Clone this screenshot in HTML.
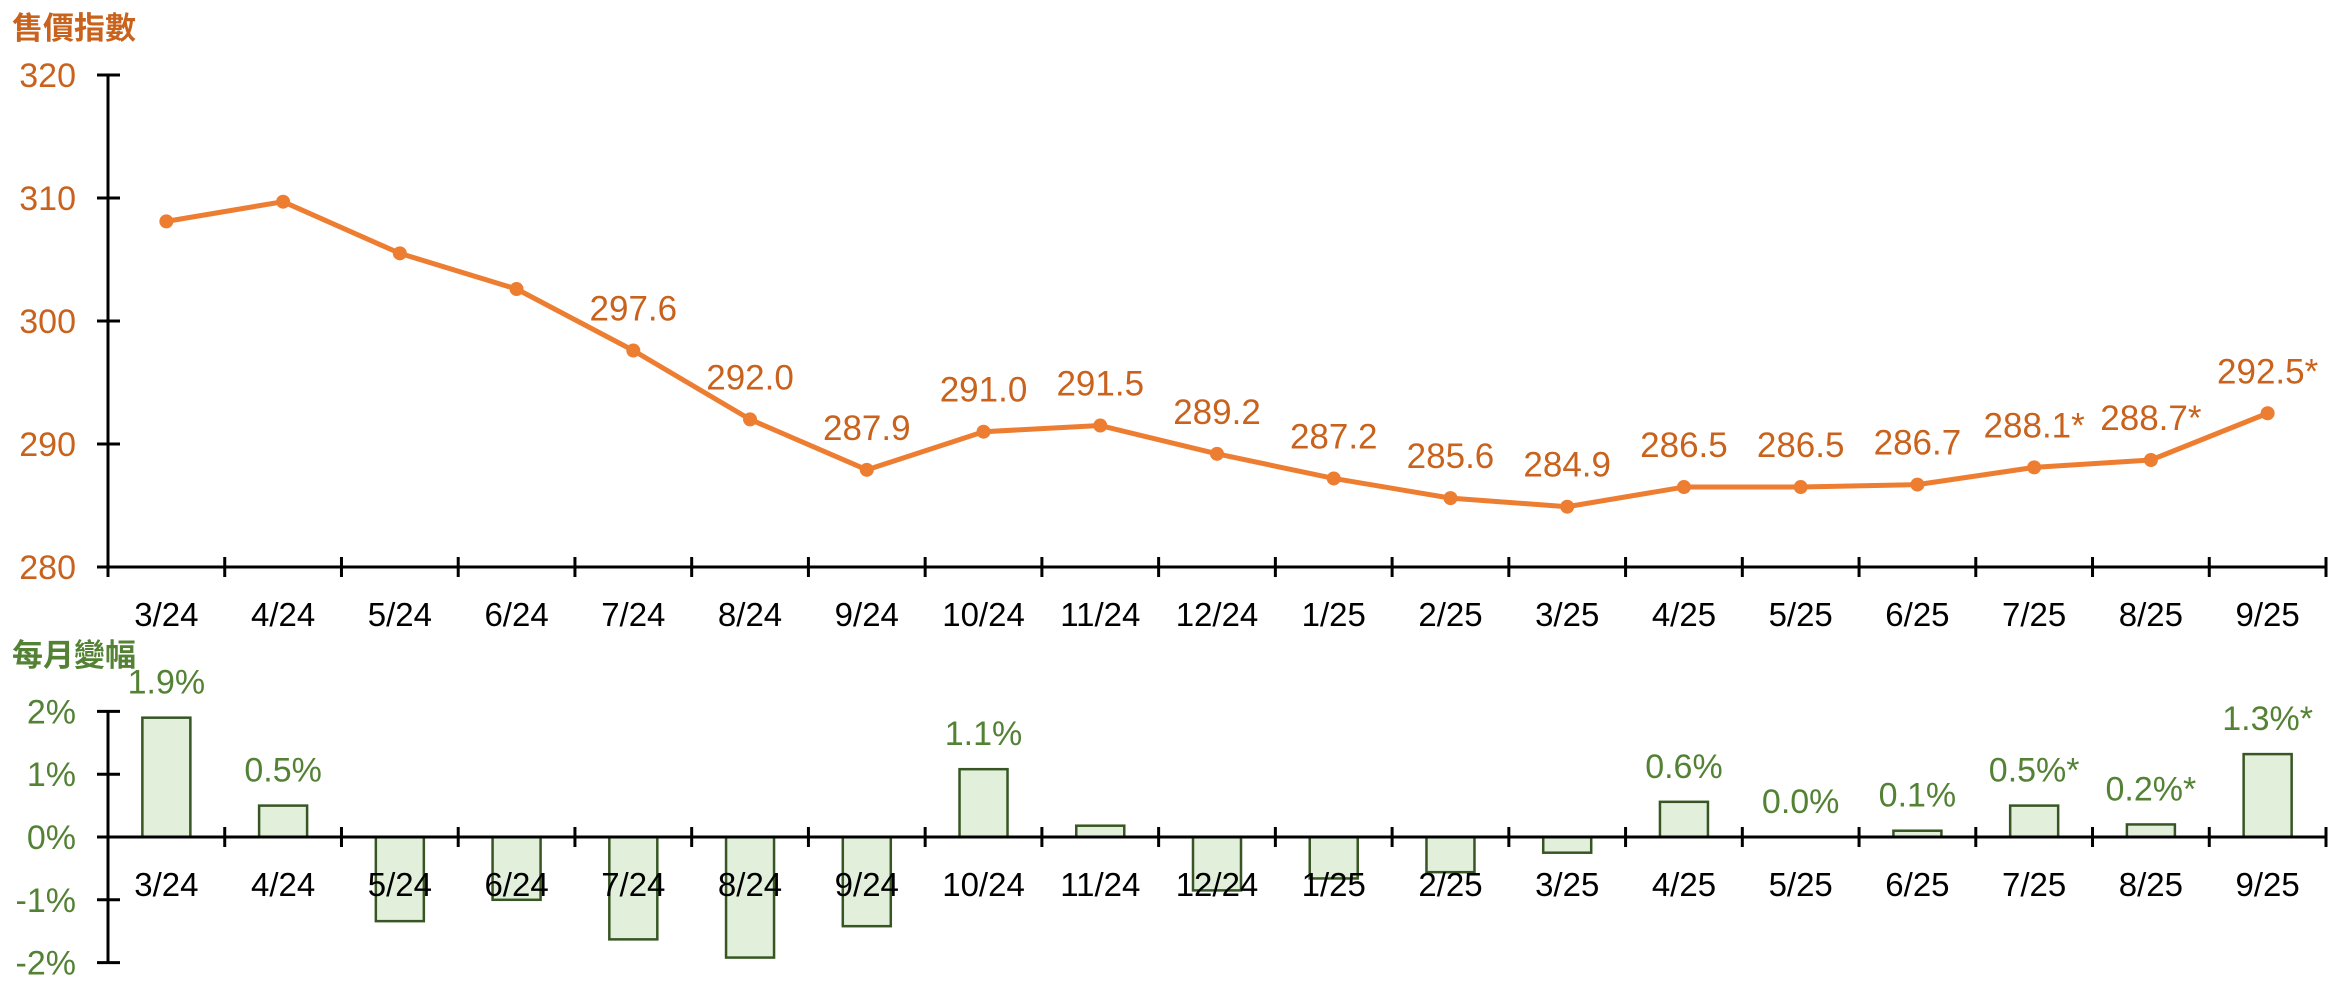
<!DOCTYPE html>
<html><head><meta charset="utf-8"><style>
html,body{margin:0;padding:0;background:#fff;}
svg{display:block;}
text{font-family:"Liberation Sans","Noto Sans CJK TC",sans-serif;}
</style></head><body>
<svg id="s" width="2346" height="992" xmlns="http://www.w3.org/2000/svg"></svg>
<script>
const s=document.getElementById('s');
let h='';
const X0=108,X1=2326,N=19,W=(X1-X0)/N;
const cx=i=>X0+W*(i+0.5);
const cats=['3/24','4/24','5/24','6/24','7/24','8/24','9/24','10/24','11/24','12/24','1/25','2/25','3/25','4/25','5/25','6/25','7/25','8/25','9/25'];
const vals=[308.1,309.7,305.5,302.6,297.6,292.0,287.9,291.0,291.5,289.2,287.2,285.6,284.9,286.5,286.5,286.7,288.1,288.7,292.5];
const lab=[null,null,null,null,'297.6','292.0','287.9','291.0','291.5','289.2','287.2','285.6','284.9','286.5','286.5','286.7','288.1*','288.7*','292.5*'];
const chg=[1.9,0.5,-1.34,-1.0,-1.63,-1.92,-1.42,1.08,0.18,-0.85,-0.66,-0.56,-0.25,0.56,0.0,0.1,0.5,0.2,1.32];
const clab=['1.9%','0.5%',null,null,null,null,null,'1.1%',null,null,null,null,null,'0.6%','0.0%','0.1%','0.5%*','0.2%*','1.3%*'];
const yT=v=>567-(v-280)*12.3;
const yB=v=>837-v*62.8;
const OR='#C8621C',GR='#548235';
h+=`<text x="12" y="39" font-size="31" font-weight="bold" fill="${OR}">售價指數</text>`;
h+=`<text x="12" y="666" font-size="31" font-weight="bold" fill="${GR}">每月變幅</text>`;
h+=`<line x1="${X0}" y1="75" x2="${X0}" y2="577" stroke="#000" stroke-width="3"/>`;
h+=`<line x1="97" y1="567" x2="${X1}" y2="567" stroke="#000" stroke-width="3"/>`;
[320,310,300,290,280].forEach(v=>{const y=yT(v);h+=`<line x1="97" y1="${y}" x2="120" y2="${y}" stroke="#000" stroke-width="3"/><text x="76" y="${y+12}" font-size="34" fill="${OR}" text-anchor="end">${v}</text>`;});
for(let i=0;i<=N;i++){const x=X0+W*i;h+=`<line x1="${x}" y1="557" x2="${x}" y2="577" stroke="#000" stroke-width="3"/>`;}
cats.forEach((c,i)=>{h+=`<text x="${cx(i)}" y="626" font-size="33" text-anchor="middle" fill="#000">${c}</text>`;});
h+=`<polyline fill="none" stroke="#ED7D31" stroke-width="5" stroke-linejoin="round" points="${vals.map((v,i)=>cx(i)+','+yT(v)).join(' ')}"/>`;
vals.forEach((v,i)=>{h+=`<circle cx="${cx(i)}" cy="${yT(v)}" r="7" fill="#ED7D31"/>`;if(lab[i])h+=`<text x="${cx(i)}" y="${yT(v)-30}" font-size="35" text-anchor="middle" fill="${OR}">${lab[i]}</text>`;});
chg.forEach((v,i)=>{const y=Math.min(yB(v),837),hh=Math.abs(v*62.8);h+=`<rect x="${cx(i)-24}" y="${y}" width="48" height="${hh}" fill="#E2EFDA" stroke="#375623" stroke-width="2.5"/>`;
 if(clab[i])h+=`<text x="${cx(i)}" y="${yB(v)-24}" font-size="34" text-anchor="middle" fill="${GR}">${clab[i]}</text>`;});
h+=`<line x1="${X0}" y1="712" x2="${X0}" y2="964" stroke="#000" stroke-width="3"/>`;
h+=`<line x1="97" y1="837" x2="${X1}" y2="837" stroke="#000" stroke-width="3"/>`;
[[2,'2%'],[1,'1%'],[0,'0%'],[-1,'-1%'],[-2,'-2%']].forEach(([v,t])=>{const y=yB(v);h+=`<line x1="97" y1="${y}" x2="120" y2="${y}" stroke="#000" stroke-width="3"/><text x="76" y="${y+12}" font-size="34" fill="${GR}" text-anchor="end">${t}</text>`;});
for(let i=0;i<=N;i++){const x=X0+W*i;h+=`<line x1="${x}" y1="827" x2="${x}" y2="847" stroke="#000" stroke-width="3"/>`;}
cats.forEach((c,i)=>{h+=`<text x="${cx(i)}" y="896" font-size="33" text-anchor="middle" fill="#000">${c}</text>`;});
s.innerHTML=h;
</script>
</body></html>
